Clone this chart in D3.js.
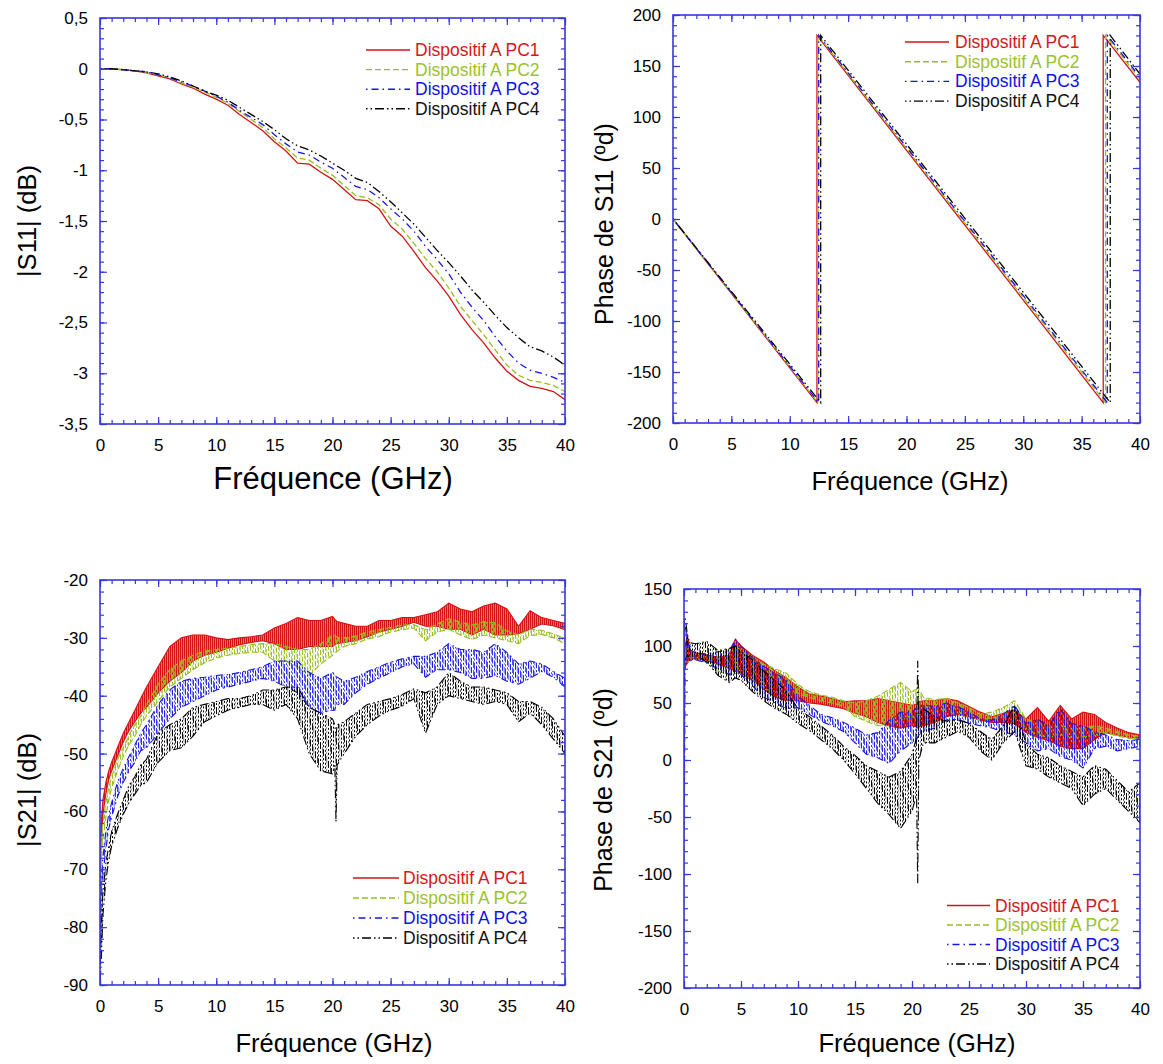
<!DOCTYPE html>
<html>
<head>
<meta charset="utf-8">
<script src="https://cdn.jsdelivr.net/npm/d3@7"></script>
<style>
  body { margin: 0; background: #fff; }
  text { font-family: "Liberation Sans", Arial, sans-serif; }
</style>
</head>
<body>
<svg id="chart" width="1163" height="1064"></svg>
<script>
// ---- data ----
const seriesNames = ['Dispositif A PC1', 'Dispositif A PC2', 'Dispositif A PC3', 'Dispositif A PC4'];
const freqTicks = [0, 5, 10, 15, 20, 25, 30, 35, 40];

// |S11| (dB), 1 GHz steps
const s11MagFreq = [0, 1, 2, 3, 4, 5, 6, 7, 8, 9, 10, 11, 12, 13, 14, 15, 16, 17, 18, 19, 20,
  21, 22, 23, 24, 25, 26, 27, 28, 29, 30, 31, 32, 33, 34, 35, 36, 37, 38, 39, 40];
const s11MagPC1 = [0, 0, -0.01, -0.02, -0.04, -0.07, -0.10, -0.15, -0.19, -0.25,
  -0.30, -0.36, -0.45, -0.53, -0.61, -0.72, -0.81, -0.93, -0.94, -1.02,
  -1.09, -1.19, -1.29, -1.30, -1.38, -1.55, -1.65, -1.80, -1.96, -2.09,
  -2.24, -2.42, -2.57, -2.70, -2.85, -2.98, -3.07, -3.13, -3.15, -3.18, -3.26];
const s11MagPC2 = [0, 0, -0.01, -0.02, -0.04, -0.06, -0.09, -0.14, -0.18, -0.23,
  -0.28, -0.34, -0.42, -0.50, -0.58, -0.69, -0.78, -0.88, -0.90, -0.98,
  -1.05, -1.15, -1.25, -1.27, -1.34, -1.48, -1.58, -1.72, -1.87, -2.00,
  -2.16, -2.34, -2.48, -2.62, -2.77, -2.92, -3.02, -3.07, -3.09, -3.12, -3.18];
const s11MagPC3 = [0, 0, -0.01, -0.02, -0.03, -0.06, -0.09, -0.13, -0.17, -0.22,
  -0.27, -0.33, -0.41, -0.48, -0.55, -0.65, -0.74, -0.82, -0.85, -0.92,
  -0.98, -1.07, -1.16, -1.19, -1.27, -1.38, -1.48, -1.60, -1.75, -1.88,
  -2.02, -2.20, -2.35, -2.48, -2.64, -2.78, -2.90, -2.97, -3.00, -3.04, -3.09];
const s11MagPC4 = [0, 0, -0.01, -0.02, -0.03, -0.05, -0.08, -0.12, -0.17, -0.22,
  -0.26, -0.31, -0.38, -0.45, -0.52, -0.60, -0.69, -0.76, -0.80, -0.86,
  -0.93, -1.00, -1.08, -1.12, -1.21, -1.31, -1.42, -1.53, -1.66, -1.79,
  -1.91, -2.04, -2.18, -2.30, -2.43, -2.55, -2.65, -2.74, -2.78, -2.84, -2.92];
const s11MagTicks = [0.5, 0, -0.5, -1, -1.5, -2, -2.5, -3, -3.5];

// Phase S11 (deg): break points of the wrapped phase
const s11PhaseFreqPC1 = [0, 12.33, 12.33, 36.85, 36.85, 40];
const s11PhaseFreqPC2 = [0, 12.42, 12.42, 37.05, 37.05, 40];
const s11PhaseFreqPC3 = [0, 12.48, 12.48, 37.2, 37.2, 40];
const s11PhaseFreqPC4 = [0, 12.65, 12.65, 37.45, 37.45, 40];
const s11PhasePC1 = [0, -180, 180, -180, 180, 134];
const s11PhasePC2 = [0, -180, 180, -180, 180, 137];
const s11PhasePC3 = [0, -180, 180, -180, 180, 139];
const s11PhasePC4 = [0, -180, 180, -180, 180, 142];
const s11PhaseTicks = [200, 150, 100, 50, 0, -50, -100, -150, -200];

// |S21| (dB): noisy traces, lower / upper edge of the noise band
const s21MagFreq = [0, 0.1, 0.25, 0.5, 0.75, 1, 1.5, 2, 2.5, 3, 3.5, 4,
  5, 6, 7, 8, 9, 10, 11, 12, 13, 14, 15, 16, 17, 18, 19, 20,
  20.2, 20.3, 20.4,
  21, 22, 23, 24, 25, 26, 27, 28, 29, 30, 31, 32, 33, 34, 35, 36, 37, 38, 39, 40];
const s21MagHiPC1 = [-70, -62, -58, -55, -53, -51.5, -49, -46.5, -44.5, -42.5, -40.5, -38.5,
  -35, -31.5, -30, -29.5, -29.5, -30, -30.3, -30, -29.8, -29.5, -28.3, -27.5, -26.5, -27, -27, -26.3,
  -26.8, -27, -27.2,
  -27.5, -28, -28, -27, -27, -26.5, -26.5, -26, -25.5, -24, -25, -25.5, -24.5, -24, -25, -28, -25.3, -26.5, -27, -27.5];
const s21MagLoPC1 = [-74, -65, -60.5, -57, -54.5, -53, -50.5, -48, -46, -44.5, -43, -42,
  -39.5, -37.5, -36, -34, -33, -32.5, -31.8, -31.2, -30.8, -30.5, -31, -32, -32, -31.5, -31.5, -31.5,
  -31.2, -31, -31,
  -30.8, -30.5, -29.8, -29, -28.5, -28, -27.3, -28, -28, -28.5, -28.5, -29.5, -28.5, -29.5, -29.5, -29.3, -28.5, -27.6, -27.9, -28.6];
const s21MagHiPC2 = [-74, -66, -62, -58.5, -56, -54, -51, -49, -46.8, -45, -43.5, -41.5,
  -38, -35.5, -34, -33, -32.3, -32, -31.8, -31.5, -31.2, -31, -31, -31.5, -32, -32, -31, -29.5,
  -29.6, -29.8, -29.9,
  -30, -29.7, -29, -28.6, -28.2, -27.8, -27.7, -28.6, -27.6, -26.7, -27.3, -27.8, -27.2, -27.4, -28.8, -29.5, -28.5, -28.7, -29.3, -30.1];
const s21MagLoPC2 = [-78, -69, -65, -61, -58, -56, -53, -50.5, -48.5, -47, -45, -43.5,
  -41, -38.5, -37, -35.5, -34.3, -33.5, -33, -32.7, -32.5, -32.5, -34, -34, -35, -36.5, -34.5, -33,
  -32.6, -32.5, -32.3,
  -31.5, -31, -30.2, -29.8, -29, -28.6, -28.3, -30.5, -29, -28.5, -29.5, -30.3, -29.5, -30, -30.5, -31, -29.6, -29.4, -30, -31];
const s21MagHiPC3 = [-80, -72, -68, -63.5, -60.5, -58.5, -55, -52.5, -50.5, -48.5, -46.5, -45,
  -41.5, -39, -37.5, -37, -36.8, -36.5, -36.3, -36, -35.5, -35, -34, -34, -34, -36, -37, -36,
  -36.2, -36.5, -36.8,
  -37.5, -36.8, -35.8, -35, -34.2, -33.6, -33.2, -33.2, -32.5, -31, -32, -32, -32.5, -31, -32.5, -34.5, -34, -34.5, -35.8, -37];
const s21MagLoPC3 = [-85, -76, -71, -66.5, -63, -61, -57.5, -55, -53, -51.5, -49.5, -49,
  -46.5, -44, -42, -41, -40, -39, -38.5, -38, -37.5, -37, -37.5, -38.5, -39.5, -42, -43, -42.5,
  -42.5, -41.5, -41.5,
  -41.5, -39.5, -38, -37, -36, -35, -34.5, -36.8, -35.5, -35.5, -36, -37, -37, -36.5, -37.5, -38, -37, -35.8, -36.8, -38.5];
const s21MagHiPC4 = [-88, -80, -74, -69, -66, -63.5, -60.5, -58, -55.5, -54, -52, -51,
  -46.5, -45, -44, -42, -41.5, -41, -40.5, -40.5, -40, -39, -39, -38.5, -38.5, -42, -43, -44,
  -45, -47, -45,
  -44.5, -43, -41.5, -41, -40.5, -39.8, -38.8, -39.5, -38.5, -36, -37.5, -38.5, -38.5, -39, -39.5, -41, -41, -42, -44, -47];
const s21MagLoPC4 = [-90, -86, -78, -72, -68.5, -66, -63, -60.5, -58.5, -57, -55.5, -55,
  -51.5, -49.5, -49, -47, -44.5, -43.5, -42.5, -42, -41.5, -41.5, -42.5, -41.5, -44, -50, -53, -53.5,
  -52, -61.8, -52,
  -50, -47, -45, -43.5, -42.5, -41.8, -40.5, -46.5, -41.5, -40, -40.5, -41, -41.5, -41, -41.5, -44.5, -43, -45, -47.5, -50];
const s21MagTicks = [-20, -30, -40, -50, -60, -70, -80, -90];

// Phase S21 (deg): noisy traces, lower / upper edge
const s21PhaseFreq = [0, 0.1, 0.3, 0.5, 1, 2, 3, 4, 4.5, 5,
  6, 7, 8, 9, 10, 11, 12, 13, 14, 15, 16, 17, 18, 19, 20,
  20.4, 20.5, 20.6,
  21, 22, 23, 24, 25, 26, 27, 28, 29, 30, 31, 32, 33, 34, 35, 36, 37, 38, 39, 40];
const s21PhaseLoPC1 = [75, 82, 85, 88, 89, 87, 84, 80, 78, 76,
  70, 62, 55, 52, 52, 50, 49, 47, 45, 41, 38, 33, 30, 28, 30,
  29, 28, 29,
  30, 33, 38, 40, 38, 35, 33, 33, 32, 24, 20, 17, 12, 10, 10, 18, 24, 22, 20, 19];
const s21PhaseHiPC1 = [85, 100, 110, 97, 94, 92, 90, 92, 106, 100,
  92, 86, 78, 72, 64, 58, 56, 54, 51, 52, 52, 54, 52, 50, 48,
  49, 50, 51,
  52, 52, 54, 52, 47, 42, 38, 41, 44, 36, 46, 34, 48, 36, 42, 40, 33, 28, 24, 22];
const s21PhaseLoPC2 = [-165, 84, 86, 87, 88, 86, 78, 74, 76, 76,
  70, 62, 60, 60, 58, 55, 52, 50, 47, 38, 34, 30, 30, 35, 38,
  36, 35, 37,
  40, 42, 43, 40, 37, 35, 36, 38, 40, 28, 22, 20, 22, 20, 20, 22, 24, 21, 19, 18];
const s21PhaseHiPC2 = [90, 96, 100, 95, 93, 91, 90, 92, 100, 96,
  90, 84, 80, 76, 66, 60, 57, 55, 52, 50, 52, 56, 62, 68, 60,
  62, 70, 62,
  55, 53, 54, 50, 46, 40, 42, 46, 52, 36, 32, 30, 30, 28, 28, 30, 28, 25, 22, 21];
const s21PhaseLoPC3 = [-60, 84, 86, 87, 88, 85, 80, 75, 78, 75,
  65, 55, 50, 45, 46, 40, 34, 30, 25, 15, 5, 2, -3, 8, 15,
  18, 20, 22,
  25, 28, 35, 35, 32, 30, 28, 25, 22, 15, 8, 10, 3, 0, -7, 10, 12, 8, 10, 12];
const s21PhaseHiPC3 = [100, 118, 105, 97, 94, 93, 95, 96, 106, 100,
  90, 82, 76, 70, 56, 48, 40, 37, 33, 28, 22, 24, 35, 42, 42,
  46, 48, 48,
  48, 47, 50, 47, 42, 36, 35, 40, 48, 32, 36, 30, 45, 32, 30, 25, 22, 18, 17, 18];
const s21PhaseLoPC4 = [85, 88, 92, 90, 92, 86, 74, 68, 72, 70,
  60, 52, 45, 40, 32, 26, 18, 10, 0, -12, -25, -38, -48, -60, -45,
  -30, -108, 0,
  15, 15, 20, 25, 20, 8, 0, 15, 25, -5, -8, -15, -20, -25, -40, -30, -25, -35, -45, -55];
const s21PhaseHiPC4 = [122, 125, 110, 103, 102, 104, 96, 98, 100, 95,
  88, 78, 70, 60, 45, 38, 30, 22, 12, 4, -5, -10, -15, -10, 5,
  20, 87, 40,
  45, 38, 34, 36, 32, 25, 18, 30, 48, 15, 5, 2, -5, -10, -15, -5, -8, -18, -28, -20];
const s21PhaseTicks = [150, 100, 50, 0, -50, -100, -150, -200];

// ---- styles ----
const lineColors = ['#d21414', '#98bd22', '#1414e6', '#000000'];
const textColors = ['#d41818', '#9cc22c', '#1212e0', '#111111'];
const dashes = [null, '6,3', '1.5,4,7,4', '1.5,3,1.5,3,9,3'];
const hatchDashes = [null, '5,2', '2,2,6,2', '2,2,2,2,7,2'];
const hatchSkew = [0, 63, 57, 67];
const frameBlue = '#3838dc';

const svg = d3.select('#chart');
const fmt = d3.formatLocale({ decimal: ',', thousands: ' ', grouping: [3], currency: ['', ''], minus: '-' }).format('~g');

// vertical-stroke hatches: give the noisy S21 bands a measured-noise look
const defs = svg.append('defs');
lineColors.forEach((c, i) => {
  const pat = defs.append('pattern')
    .attr('id', 'hatch' + i)
    .attr('patternUnits', 'userSpaceOnUse')
    .attr('patternTransform', `skewY(${hatchSkew[i]})`)
    .attr('width', i === 0 ? 2 : 2.6)
    .attr('height', 21);
  pat.append('line')
    .attr('x1', 0.8).attr('x2', 0.8)
    .attr('y1', 0).attr('y2', 21)
    .attr('stroke', c)
    .attr('stroke-width', i === 0 ? 1.6 : 1.3)
    .attr('stroke-dasharray', hatchDashes[i]);
});

function zip(xs, ys) { return xs.map((f, i) => [f, ys[i]]); }
function zip3(xs, lo, hi) { return xs.map((f, i) => [f, lo[i], hi[i]]); }

function drawPanel(p) {
  const g = svg.append('g');
  const x = d3.scaleLinear().domain([0, 40]).range([p.left, p.right]);
  const y = d3.scaleLinear().domain(p.yDomain).range([p.bottom, p.top]);

  g.append('clipPath').attr('id', 'clip' + p.id)
    .append('rect')
    .attr('x', p.left).attr('y', p.top)
    .attr('width', p.right - p.left).attr('height', p.bottom - p.top);
  const plot = g.append('g').attr('clip-path', `url(#clip${p.id})`);

  // curves
  if (p.lines) {
    const line = d3.line().x(d => x(d[0])).y(d => y(d[1]));
    p.lines.forEach((pts, i) => {
      plot.append('path')
        .attr('d', line(pts))
        .attr('fill', 'none')
        .attr('stroke', lineColors[i])
        .attr('stroke-width', 1.3)
        .attr('stroke-dasharray', dashes[i]);
    });
  }
  if (p.bands) {
    const area = d3.area().x(d => x(d[0])).y0(d => y(d[1])).y1(d => y(d[2]));
    p.bands.forEach((pts, i) => {
      plot.append('path')
        .attr('d', area(pts))
        .attr('fill', `url(#hatch${i})`)
        .attr('stroke', lineColors[i])
        .attr('stroke-width', 1.1)
        .attr('stroke-dasharray', dashes[i]);
    });
  }

  // ticks on all four sides, pointing inward
  const minorX = d3.range(0, 41, 1);
  const minorY = d3.range(0, Math.round((p.yDomain[1] - p.yDomain[0]) / p.yMinor) + 1)
    .map(k => p.yDomain[0] + k * p.yMinor);

  const axes = [
    [d3.axisBottom(x).tickValues(freqTicks).tickSize(-7).tickPadding(15).tickFormat(fmt), `translate(0,${p.bottom})`],
    [d3.axisBottom(x).tickValues(minorX).tickSize(-4).tickFormat(''), `translate(0,${p.bottom})`],
    [d3.axisTop(x).tickValues(freqTicks).tickSize(-7).tickFormat(''), `translate(0,${p.top})`],
    [d3.axisTop(x).tickValues(minorX).tickSize(-4).tickFormat(''), `translate(0,${p.top})`],
    [d3.axisLeft(y).tickValues(p.yTicks).tickSize(-7).tickPadding(12).tickFormat(fmt), `translate(${p.left},0)`],
    [d3.axisLeft(y).tickValues(minorY).tickSize(-4).tickFormat(''), `translate(${p.left},0)`],
    [d3.axisRight(y).tickValues(p.yTicks).tickSize(-7).tickFormat(''), `translate(${p.right},0)`],
    [d3.axisRight(y).tickValues(minorY).tickSize(-4).tickFormat(''), `translate(${p.right},0)`]
  ];
  axes.forEach(([ax, tr]) => {
    const a = g.append('g').attr('transform', tr).call(ax);
    a.select('.domain').remove();
    a.selectAll('line').attr('stroke', frameBlue).attr('stroke-width', 1.2);
    a.selectAll('text')
      .attr('fill', '#000')
      .style('font-size', '17px')
      .style('font-family', '"Liberation Sans", Arial, sans-serif');
  });

  g.append('rect')
    .attr('x', p.left).attr('y', p.top)
    .attr('width', p.right - p.left).attr('height', p.bottom - p.top)
    .attr('fill', 'none')
    .attr('stroke', frameBlue)
    .attr('stroke-width', 1.6);

  // titles
  g.append('text')
    .attr('x', p.xTitleX).attr('y', p.xTitleY)
    .attr('text-anchor', 'middle')
    .attr('dominant-baseline', 'central')
    .style('font-size', p.xTitleSize + 'px')
    .text('Fréquence (GHz)');
  g.append('text')
    .attr('transform', `translate(${p.yTitleX},${p.yTitleY}) rotate(-90)`)
    .attr('text-anchor', 'middle')
    .attr('dominant-baseline', 'central')
    .style('font-size', p.yTitleSize + 'px')
    .text(p.yTitle);

  // legend
  const lg = p.legend;
  seriesNames.forEach((name, i) => {
    const ly = lg.y0 + i * lg.dy;
    g.append('line')
      .attr('x1', lg.x1).attr('x2', lg.x2)
      .attr('y1', ly).attr('y2', ly)
      .attr('stroke', lineColors[i])
      .attr('stroke-width', 1.4)
      .attr('stroke-dasharray', dashes[i]);
    g.append('text')
      .attr('x', lg.tx).attr('y', ly)
      .attr('dominant-baseline', 'central')
      .attr('fill', textColors[i])
      .style('font-size', '17.5px')
      .text(name);
  });
}

drawPanel({
  id: 1, left: 100, right: 565, top: 18, bottom: 424,
  yDomain: [-3.5, 0.5], yTicks: s11MagTicks, yMinor: 0.1,
  lines: [zip(s11MagFreq, s11MagPC1), zip(s11MagFreq, s11MagPC2), zip(s11MagFreq, s11MagPC3), zip(s11MagFreq, s11MagPC4)],
  xTitleX: 333, xTitleY: 478, xTitleSize: 31,
  yTitle: '|S11| (dB)', yTitleX: 27, yTitleY: 221, yTitleSize: 25.5,
  legend: { x1: 366, x2: 410, tx: 415, y0: 50, dy: 19.6 }
});

drawPanel({
  id: 2, left: 673, right: 1140, top: 15, bottom: 423,
  yDomain: [-200, 200], yTicks: s11PhaseTicks, yMinor: 10,
  lines: [zip(s11PhaseFreqPC1, s11PhasePC1), zip(s11PhaseFreqPC2, s11PhasePC2),
          zip(s11PhaseFreqPC3, s11PhasePC3), zip(s11PhaseFreqPC4, s11PhasePC4)],
  xTitleX: 910, xTitleY: 481, xTitleSize: 25.5,
  yTitle: 'Phase de S11 (ºd)', yTitleX: 604, yTitleY: 224, yTitleSize: 25,
  legend: { x1: 905, x2: 949, tx: 955, y0: 42, dy: 19.7 }
});

drawPanel({
  id: 3, left: 100, right: 565, top: 580, bottom: 985,
  yDomain: [-90, -20], yTicks: s21MagTicks, yMinor: 2,
  bands: [zip3(s21MagFreq, s21MagLoPC1, s21MagHiPC1), zip3(s21MagFreq, s21MagLoPC2, s21MagHiPC2),
          zip3(s21MagFreq, s21MagLoPC3, s21MagHiPC3), zip3(s21MagFreq, s21MagLoPC4, s21MagHiPC4)],
  xTitleX: 334, xTitleY: 1043, xTitleSize: 25.5,
  yTitle: '|S21| (dB)', yTitleX: 27, yTitleY: 790, yTitleSize: 25.5,
  legend: { x1: 353, x2: 399, tx: 403, y0: 878, dy: 20 }
});

drawPanel({
  id: 4, left: 684, right: 1140, top: 589, bottom: 988,
  yDomain: [-200, 150], yTicks: s21PhaseTicks, yMinor: 10,
  bands: [zip3(s21PhaseFreq, s21PhaseLoPC1, s21PhaseHiPC1), zip3(s21PhaseFreq, s21PhaseLoPC2, s21PhaseHiPC2),
          zip3(s21PhaseFreq, s21PhaseLoPC3, s21PhaseHiPC3), zip3(s21PhaseFreq, s21PhaseLoPC4, s21PhaseHiPC4)],
  xTitleX: 917, xTitleY: 1043, xTitleSize: 25.5,
  yTitle: 'Phase de S21 (ºd)', yTitleX: 603, yTitleY: 790, yTitleSize: 25,
  legend: { x1: 947, x2: 990, tx: 995, y0: 905.5, dy: 19.5 }
});
</script>
</body>
</html>
